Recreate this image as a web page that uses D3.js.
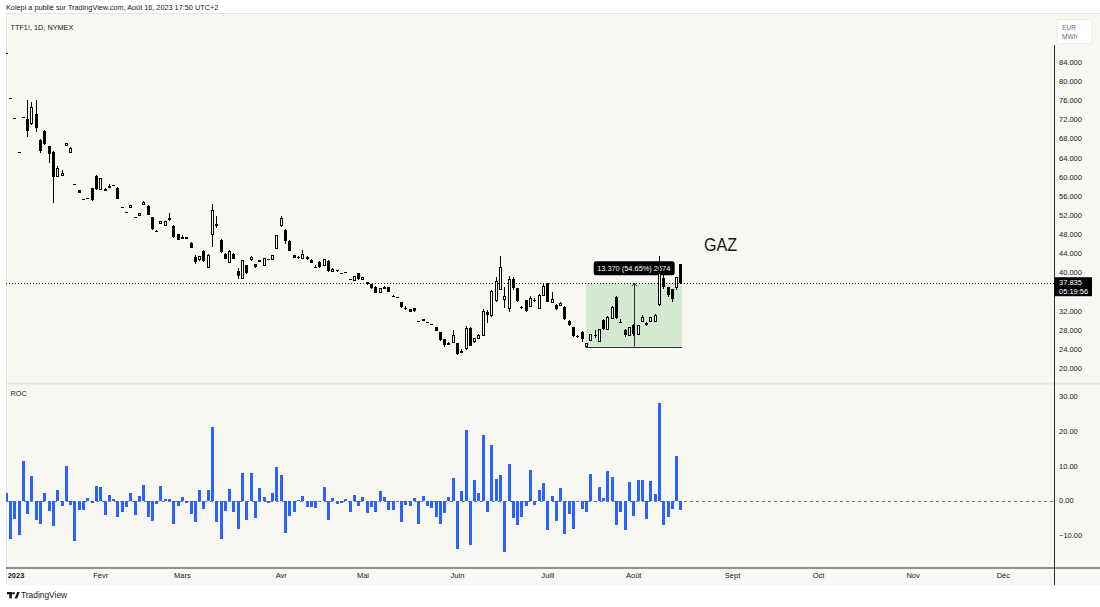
<!DOCTYPE html>
<html>
<head>
<meta charset="utf-8">
<script src="https://cdn.jsdelivr.net/npm/d3@7"></script>
<style>
html, body { margin: 0; padding: 0; background: #ffffff; }
svg { display: block; font-family: "Liberation Sans", Arial, sans-serif; }
</style>
</head>
<body>
<svg id="chart" width="1100" height="607"></svg>
<script>
// TTF1! daily candles, Jan 2 -> Aug 16 2023 (one entry per session)
var opens = [85.8,76.4,72.35,65.2,72.5,72.1,71.2,73.2,67.7,69.6,
  66.4,65.1,60.0,60.3,66.5,65.1,58.4,57.2,55.35,55.6,
  57.6,60.2,57.4,57.4,58.0,58.2,57.6,53.7,52.7,53.5,
  51.6,52.0,54.2,53.95,51.5,48.7,50.3,49.7,51.3,49.8,
  48.0,47.2,47.3,46.2,43.3,42.6,44.5,41.1,47.96,50.2,
  46.8,43.8,42.0,43.8,40.3,38.8,41.5,42.6,41.7,42.4,
  41.5,42.8,42.6,44.9,49.8,48.9,46.6,43.6,43.2,42.8,
  43.3,42.6,41.1,42.2,41.4,42.4,40.15,40.5,39.95,40.0,
  38.6,38.4,39.8,38.6,37.9,37.5,37.0,35.75,36.7,36.9,
  35.0,34.9,33.8,32.6,32.3,32.5,29.8,29.9,29.6,29.2,
  28.5,27.5,26.0,25.0,25.4,25.16,23.3,24.0,28.3,25.6,
  26.1,26.9,31.8,30.9,34.1,36.5,34.4,32.5,38.6,36.67,
  32.8,34.2,32.8,34.25,32.5,35.06,37.7,33.7,33.2,33.1,
  32.8,29.9,28.5,26.6,27.6,24.6,25.7,26.95,25.5,30.04,
  28.0,30.4,34.9,29.6,27.95,26.7,29.0,27.1,29.7,29.5,
  29.7,29.7,33.2,38.8,36.9,36.46,36.9,41.75];
var highs = [85.8,76.4,72.35,65.2,72.5,76.0,75.6,76.0,67.9,69.8,
  66.5,65.3,62.2,61.4,67.1,66.3,58.4,57.3,55.35,55.6,
  57.7,60.4,59.7,57.6,58.5,58.2,57.8,53.7,52.7,54.0,
  51.6,52.5,54.9,54.1,51.6,48.9,50.8,50.8,52.35,49.9,
  48.1,47.8,47.4,46.3,43.6,43.5,44.6,43.8,54.2,51.8,
  47.0,44.0,44.7,44.0,40.85,42.6,41.6,43.5,41.8,42.6,
  43.0,42.9,43.6,47.9,51.85,49.0,46.7,43.7,43.4,44.6,
  43.4,42.7,41.5,42.3,42.9,42.5,40.9,40.6,39.95,40.0,
  38.6,39.3,39.9,39.0,38.0,37.6,37.1,36.8,37.2,37.0,
  35.3,34.9,33.9,32.9,32.4,32.6,29.8,30.3,29.6,29.3,
  28.6,27.6,26.1,25.5,27.95,25.3,23.9,28.85,28.5,26.3,
  27.1,32.3,32.1,36.3,39.1,43.5,37.0,39.24,39.0,36.8,
  33.0,34.3,35.06,34.6,35.4,37.7,37.8,35.96,33.3,33.7,
  32.9,30.0,28.6,27.0,27.7,25.2,27.1,27.95,28.2,30.2,
  30.8,32.9,35.0,30.2,28.1,28.5,29.1,28.9,31.0,29.6,
  30.6,31.2,43.4,39.9,37.0,36.6,38.9,41.8];
var lows = [85.8,76.4,72.35,65.2,72.5,68.3,70.8,69.4,65.0,66.6,
  62.9,54.45,59.9,60.2,66.4,65.0,58.4,56.6,55.35,55.6,
  55.0,57.3,57.3,57.0,58.0,58.2,55.3,53.7,52.7,53.4,
  51.6,51.9,54.1,51.9,48.9,48.4,50.2,49.6,50.8,47.1,
  46.7,47.1,46.9,45.0,41.7,42.4,42.2,41.0,45.4,49.3,
  44.0,42.7,41.9,42.7,38.7,38.7,39.6,42.4,41.0,42.3,
  41.4,42.6,42.5,44.8,49.55,45.9,44.4,43.0,42.9,42.7,
  42.6,42.0,41.0,41.0,41.3,40.0,40.1,40.0,39.95,40.0,
  38.6,38.3,38.5,38.4,37.3,36.5,35.6,35.7,36.6,35.8,
  34.8,34.9,32.5,32.1,31.7,31.8,29.8,29.9,29.6,28.9,
  27.7,25.7,24.4,24.9,25.3,22.7,23.1,23.8,24.5,25.3,
  26.0,26.8,29.4,30.7,33.9,36.3,32.5,31.8,36.4,33.8,
  32.3,31.7,32.7,33.9,32.4,35.0,33.8,33.6,32.1,32.9,
  30.0,28.8,26.5,26.3,25.5,24.465,25.6,26.3,25.4,27.9,
  27.9,30.3,30.3,29.4,26.4,26.6,26.6,27.0,29.6,28.7,
  29.6,29.6,32.9,36.6,34.9,33.8,36.3,37.5];
var closes = [85.8,76.4,72.35,65.2,72.5,69.6,74.4,70.1,65.3,66.85,
  64.8,60.0,61.75,60.7,66.9,66.0,58.4,56.7,55.35,55.6,
  55.2,57.4,59.6,57.1,58.05,58.2,55.4,53.7,52.7,53.9,
  51.6,52.3,54.7,52.0,49.0,48.5,50.6,50.7,50.9,47.5,
  46.8,47.25,47.0,45.1,42.1,43.4,42.35,43.6,52.9,49.7,
  44.2,42.9,44.4,42.9,39.3,42.4,39.95,43.2,41.1,42.5,
  42.9,42.65,43.5,47.8,51.3,46.5,44.5,43.1,43.1,43.7,
  42.85,42.05,41.1,41.1,42.7,40.3,40.6,40.2,39.95,40.0,
  38.6,39.2,38.55,38.9,37.5,36.8,35.65,36.6,36.9,35.9,
  34.9,34.9,32.7,32.25,31.75,31.9,29.8,30.1,29.6,29.0,
  27.7,25.85,24.9,25.2,26.7,22.9,23.5,28.3,24.7,26.2,
  26.8,31.9,31.0,35.96,38.1,41.06,34.95,38.6,36.7,34.0,
  32.5,31.9,34.6,34.1,35.2,37.0,33.85,34.3,32.25,33.4,
  30.15,29.0,26.6,26.6,26.0,25.1,27.05,26.95,28.0,28.15,
  30.6,32.7,30.4,29.45,26.95,28.4,27.15,28.8,30.5,28.9,
  30.5,31.08,39.82,37.03,35.29,34.44,38.85,37.835];

// ROC (1) pane, percent
var rocValues = [2.2,-11.0,-5.3,-10.0,11.5,-4.0,7.0,-5.7,-6.7,2.3,
  -3.0,-7.4,2.9,-1.7,10.1,-1.3,-11.7,-2.8,-2.6,0.6,
  -0.6,4.1,3.9,-4.2,1.6,0.4,-4.7,-3.2,-1.9,2.3,
  -4.2,1.4,4.5,-4.8,-5.8,-1.0,4.3,0.3,0.4,-6.7,
  -1.7,1.0,-0.7,-3.9,-6.3,3.1,-2.4,3.1,21.2,-6.1,
  -11.0,-3.0,3.4,-3.3,-8.3,7.8,-5.7,8.0,-4.9,3.6,
  1.0,-0.6,2.2,9.7,7.4,-9.4,-4.4,-3.2,0.1,1.4,
  -1.9,-1.9,-2.2,0.0,3.9,-5.6,0.8,-1.0,-0.7,0.3,
  -3.4,1.6,-1.7,0.9,-3.5,-2.0,-3.2,2.7,0.9,-2.6,
  -2.8,-0.1,-6.3,-1.4,-1.6,0.6,-6.9,1.3,-1.6,-2.1,
  -4.7,-6.7,-3.6,1.0,6.4,-14.0,2.7,20.2,-12.7,6.0,
  2.3,19.0,-3.2,16.1,6.3,7.4,-14.9,10.6,-5.0,-7.2,
  -4.7,-1.6,8.8,-1.4,3.1,5.0,-8.6,1.4,-5.9,3.6,
  -9.7,-3.8,-8.2,0.0,-2.3,-3.2,7.7,-0.4,3.9,0.6,
  8.6,6.9,-7.1,-3.2,-8.4,5.4,-4.4,6.0,6.0,-5.3,
  5.6,1.9,28.1,-7.0,-4.7,-2.4,12.8,-2.6];

// 36.000 sits under the last price tag, so it is not listed
var priceTicks = [20,24,28,32,40,44,48,52,56,60,64,68,72,76,80,84];
var rocTicks = [-10,0,10,20,30];
// session index of the first bar of each month, and its label
var monthIdx = [0,22,41,64,83,105,126,146,169,189,211,232];
var monthLabels = ['2023','Févr','Mars','Avr','Mai','Juin','Juill','Août','Sept','Oct','Nov','Déc'];

var lastPrice = 37.835;
var measureFrom = 135, measureTo = 157;   // price range drawing (from the July low)

var BG = '#f8f7f2', INK = '#131722', BLUE = '#2962ff';
var AX = 1054.5; // price scale border

var svg = d3.select('#chart');

// scales
var x = d3.scaleLinear().domain([0, 245]).range([5.7, 5.7 + 245 * 4.298]);
var yP = d3.scaleLinear().domain([20, 84]).range([368, 62]);
var yR = d3.scaleLinear().domain([-10, 30]).range([535.2, 396.5]);

// frame
svg.append('rect').attr('x', 6).attr('y', 13).attr('width', 1094).attr('height', 572)
  .attr('fill', BG);
svg.append('line').attr('x1', 6).attr('x2', 1100).attr('y1', 13.5).attr('y2', 13.5)
  .attr('stroke', '#e6e6e2');
svg.append('line').attr('x1', 6.5).attr('x2', 6.5).attr('y1', 13).attr('y2', 585)
  .attr('stroke', '#e6e6e2');
svg.append('line').attr('x1', 6).attr('x2', 1100).attr('y1', 383.5).attr('y2', 383.5)
  .attr('stroke', '#e3e3df').attr('stroke-width', 2);

var defs = svg.append('defs');
defs.append('clipPath').attr('id', 'clipMain').append('rect')
  .attr('x', 6).attr('y', 14).attr('width', AX - 6).attr('height', 368.5);
defs.append('clipPath').attr('id', 'clipRoc').append('rect')
  .attr('x', 6).attr('y', 385).attr('width', AX - 6).attr('height', 182.5);

// header texts
svg.append('text').attr('x', 6).attr('y', 9.5).attr('font-size', 7.3).attr('fill', INK)
  .text('Kolepi a publié sur TradingView.com, Août 16, 2023 17:50 UTC+2');
svg.append('text').attr('x', 10.5).attr('y', 30).attr('font-size', 7.3).attr('fill', INK)
  .text('TTF1!, 1D, NYMEX');
svg.append('text').attr('x', 10.5).attr('y', 396).attr('font-size', 7.3).attr('fill', INK)
  .text('ROC');

var candles = opens.map(function(o, i){
  return {i: i, o: o, h: highs[i], l: lows[i], c: closes[i]};
});

var main = svg.append('g').attr('clip-path', 'url(#clipMain)');

// price range drawing: fill under the candles
var mx0 = x(measureFrom), mx1 = x(measureTo) + 1.5;
var mTop = yP(lastPrice), mBot = yP(lows[measureFrom]);
main.append('rect').attr('x', mx0).attr('y', mTop).attr('width', mx1 - mx0)
  .attr('height', mBot - mTop).attr('fill', 'rgba(76,175,80,0.2)');

// last price dotted line
main.append('line').attr('x1', 6).attr('x2', AX).attr('y1', Math.round(yP(lastPrice)) + 0.5)
  .attr('y2', Math.round(yP(lastPrice)) + 0.5)
  .attr('stroke', INK).attr('stroke-dasharray', '1,2').attr('stroke-width', 1);

// measure lines + label
var mMid = x((measureFrom + measureTo) / 2) + 0.5;
main.append('line').attr('x1', mx0).attr('x2', mx1).attr('y1', Math.round(mBot) + 0.5)
  .attr('y2', Math.round(mBot) + 0.5).attr('stroke', '#2a2e39');
main.append('line').attr('x1', Math.round(mMid) + 0.5).attr('x2', Math.round(mMid) + 0.5)
  .attr('y1', mBot).attr('y2', mTop + 1).attr('stroke', '#2a2e39');
main.append('path')
  .attr('d', 'M' + (Math.round(mMid) - 2) + ',' + (mTop + 3.5) + 'L' + (Math.round(mMid) + 0.5) + ',' + (mTop + 0.5) +
    'L' + (Math.round(mMid) + 3) + ',' + (mTop + 3.5))
  .attr('fill', 'none').attr('stroke', '#2a2e39');

var diff = lastPrice - lows[measureFrom];
var labelTxt = d3.format('.3f')(diff) + ' (' + d3.format('.2f')(diff / lows[measureFrom] * 100) + '%) ' +
  Math.round(diff / 0.005);
main.append('rect').attr('x', mMid - 40).attr('y', mTop - 21.5).attr('width', 81).attr('height', 14)
  .attr('rx', 2.5).attr('fill', '#000');
main.append('text').attr('x', mMid).attr('y', mTop - 11.8).attr('text-anchor', 'middle')
  .attr('font-size', 7.4).attr('fill', '#fff').text(labelTxt);

// candles
var cg = main.append('g').attr('shape-rendering', 'crispEdges');
var cs = cg.selectAll('g.candle').data(candles).enter().append('g').attr('class', 'candle');

cs.append('line')
  .attr('x1', function(d){ return Math.round(x(d.i)) + 0.5; })
  .attr('x2', function(d){ return Math.round(x(d.i)) + 0.5; })
  .attr('y1', function(d){ return yP(d.h); })
  .attr('y2', function(d){ return yP(d.l); })
  .attr('stroke', '#000');

cs.append('rect')
  .attr('x', function(d){ return d.c > d.o ? Math.round(x(d.i)) - 0.5 : Math.round(x(d.i)) - 1; })
  .attr('y', function(d){ return yP(Math.max(d.o, d.c)); })
  .attr('width', function(d){ return d.c > d.o ? 2 : 3; })
  .attr('height', function(d){ return Math.max(1, yP(Math.min(d.o, d.c)) - yP(Math.max(d.o, d.c))); })
  .attr('fill', function(d){ return d.c > d.o ? '#fff' : '#000'; })
  .attr('stroke', function(d){ return d.c > d.o ? '#000' : 'none'; });

// GAZ note
svg.append('text').attr('x', 704).attr('y', 251).attr('font-size', 18).attr('fill', INK)
  .attr('textLength', 33).attr('lengthAdjust', 'spacingAndGlyphs').text('GAZ');

// ROC pane
var rg = svg.append('g').attr('clip-path', 'url(#clipRoc)');
rg.append('line').attr('x1', 6).attr('x2', AX).attr('y1', Math.round(yR(0)) + 0.5).attr('y2', Math.round(yR(0)) + 0.5)
  .attr('stroke', '#787b86').attr('stroke-dasharray', '3,3');
rg.append('g').attr('shape-rendering', 'crispEdges').selectAll('rect').data(rocValues).enter().append('rect')
  .attr('x', function(d, i){ return Math.round(x(i)) - 1; })
  .attr('y', function(d){ return yR(Math.max(0, d)); })
  .attr('width', 3)
  .attr('height', function(d){ return Math.max(0.6, Math.abs(yR(d) - yR(0))); })
  .attr('fill', BLUE);

// price scale
var pAxis = svg.append('g').attr('transform', 'translate(' + AX + ',0)')
  .call(d3.axisRight(yP).tickValues(priceTicks).tickFormat(d3.format('.3f')).tickSize(0).tickPadding(4.5));
var rAxis = svg.append('g').attr('transform', 'translate(' + AX + ',0)')
  .call(d3.axisRight(yR).tickValues(rocTicks).tickFormat(d3.format('.2f')).tickSize(0).tickPadding(4.5));
[pAxis, rAxis].forEach(function(a){
  a.select('.domain').remove();
  a.selectAll('text').attr('font-size', 7.5).attr('fill', INK)
    .attr('font-family', '"Liberation Sans", Arial, sans-serif');
});
svg.append('line').attr('x1', AX).attr('x2', AX).attr('y1', 45).attr('y2', 585)
  .attr('stroke', '#2a2e39');

// unit box
svg.append('rect').attr('x', 1057).attr('y', 19.5).attr('width', 35).attr('height', 24).attr('rx', 2)
  .attr('fill', '#fff').attr('stroke', '#ececea');
svg.append('text').attr('x', 1062).attr('y', 29.5).attr('font-size', 6.6).attr('fill', '#6a6d78').text('EUR');
svg.append('text').attr('x', 1062).attr('y', 39).attr('font-size', 6.6).attr('fill', '#6a6d78').text('MWh');

// last price tag
svg.append('rect').attr('x', AX).attr('y', yP(lastPrice) - 5.5).attr('width', 37.5).attr('height', 19)
  .attr('fill', '#000');
svg.append('text').attr('x', 1059).attr('y', yP(lastPrice) + 2.5).attr('font-size', 7.5).attr('fill', '#fff')
  .text(d3.format('.3f')(lastPrice));
svg.append('text').attr('x', 1059).attr('y', yP(lastPrice) + 11).attr('font-size', 7.5).attr('fill', '#fff')
  .text('05:19:56');

// time scale
svg.append('line').attr('x1', 6).attr('x2', 1100).attr('y1', 568).attr('y2', 568).attr('stroke', '#2a2e39');
var tAxis = svg.append('g').attr('transform', 'translate(0,568)')
  .call(d3.axisBottom(x).tickValues(monthIdx).tickFormat(function(d, k){ return monthLabels[k]; })
    .tickSize(0).tickPadding(4.5));
tAxis.select('.domain').remove();
tAxis.selectAll('text').attr('font-size', 7.5).attr('fill', INK)
  .attr('font-family', '"Liberation Sans", Arial, sans-serif');
tAxis.selectAll('.tick').filter(function(d){ return d === 0; }).select('text')
  .attr('text-anchor', 'start').attr('x', 1.5).attr('font-weight', 'bold');

// footer logo
var logo = svg.append('g').attr('fill', INK);
logo.append('rect').attr('x', 7).attr('y', 592).attr('width', 5.2).attr('height', 2.4);
logo.append('rect').attr('x', 9.3).attr('y', 592).attr('width', 2.6).attr('height', 6.4);
logo.append('circle').attr('cx', 13.6).attr('cy', 593.3).attr('r', 1.3);
logo.append('path').attr('d', 'M14.6,598.4L17.2,592L19.8,592L17.2,598.4Z');
svg.append('text').attr('x', 21).attr('y', 598).attr('font-size', 8.4).attr('fill', INK).text('TradingView');
</script>
</body>
</html>
